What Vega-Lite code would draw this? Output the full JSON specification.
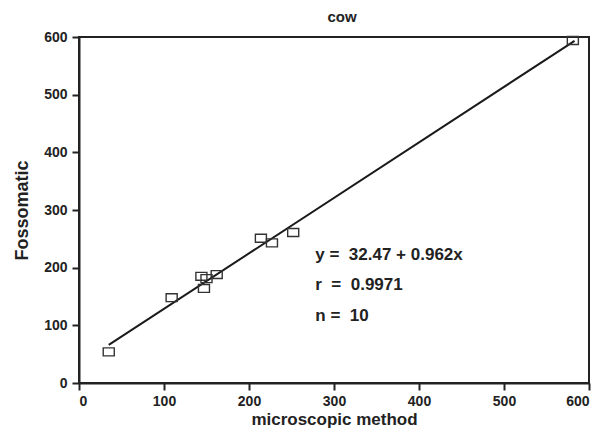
{
  "$schema": "https://vega.github.io/schema/vega-lite/v6.json",
  "width": 510,
  "height": 346,
  "autosize": "none",
  "padding": {"left": 79, "top": 37, "right": 11, "bottom": 52},
  "background": "white",
  "title": {"text": "cow", "font": "Liberation Sans", "fontSize": 15, "fontWeight": "bold", "color": "#222", "offset": 5, "dx": 8},
  "config": {
    "view": {"stroke": "#222", "strokeWidth": 2},
    "axis": {
      "domainColor": "#222", "domainWidth": 2, "tickColor": "#222", "tickWidth": 2, "tickSize": 7,
      "labelFont": "Liberation Sans", "labelFontSize": 14, "labelFontWeight": "bold", "labelColor": "#222",
      "titleFont": "Liberation Sans", "titleFontSize": 17, "titleFontWeight": "bold", "titleColor": "#222",
      "grid": false
    }
  },
  "datasets": {
    "points": [
      {"micro": 35, "foss": 54},
      {"micro": 109, "foss": 148},
      {"micro": 144, "foss": 185},
      {"micro": 150, "foss": 181},
      {"micro": 162, "foss": 188},
      {"micro": 147, "foss": 164},
      {"micro": 214, "foss": 251},
      {"micro": 227, "foss": 243},
      {"micro": 252, "foss": 261},
      {"micro": 581, "foss": 594}
    ],
    "fit": [
      {"micro": 35, "foss": 66.1},
      {"micro": 583, "foss": 593.3}
    ],
    "notes": [
      {"micro": 278, "foss": 222, "label": "y =\u00a0 32.47 + 0.962x"},
      {"micro": 278, "foss": 170, "label": "r\u00a0 =\u00a0 0.9971"},
      {"micro": 278, "foss": 116, "label": "n =\u00a0 10"}
    ]
  },
  "layer": [
    {
      "data": {"name": "fit"},
      "mark": {"type": "line", "color": "#1a1a1a", "strokeWidth": 2},
      "encoding": {
        "x": {"field": "micro", "type": "quantitative", "scale": {"domain": [0, 600], "nice": false}, "axis": {"title": "microscopic method", "values": [0, 100, 200, 300, 400, 500, 600], "titlePadding": 3, "labelPadding": 4}},
        "y": {"field": "foss", "type": "quantitative", "scale": {"domain": [0, 600], "nice": false}, "axis": {"title": "Fossomatic", "values": [0, 100, 200, 300, 400, 500, 600], "titlePadding": 12, "titleFontSize": 18, "labelPadding": 5}}
      }
    },
    {
      "data": {"name": "points"},
      "mark": {"type": "point", "shape": "M-1.25,-0.9L1.25,-0.9L1.25,0.9L-1.25,0.9Z", "size": 78, "filled": false, "stroke": "#333", "strokeWidth": 1.4, "fill": "white", "fillOpacity": 0},
      "encoding": {
        "x": {"field": "micro", "type": "quantitative"},
        "y": {"field": "foss", "type": "quantitative"}
      }
    },
    {
      "data": {"name": "notes"},
      "mark": {"type": "text", "align": "left", "baseline": "middle", "font": "Liberation Sans", "fontSize": 17, "fontWeight": "bold", "color": "#222"},
      "encoding": {
        "x": {"field": "micro", "type": "quantitative"},
        "y": {"field": "foss", "type": "quantitative"},
        "text": {"field": "label"}
      }
    }
  ]
}
